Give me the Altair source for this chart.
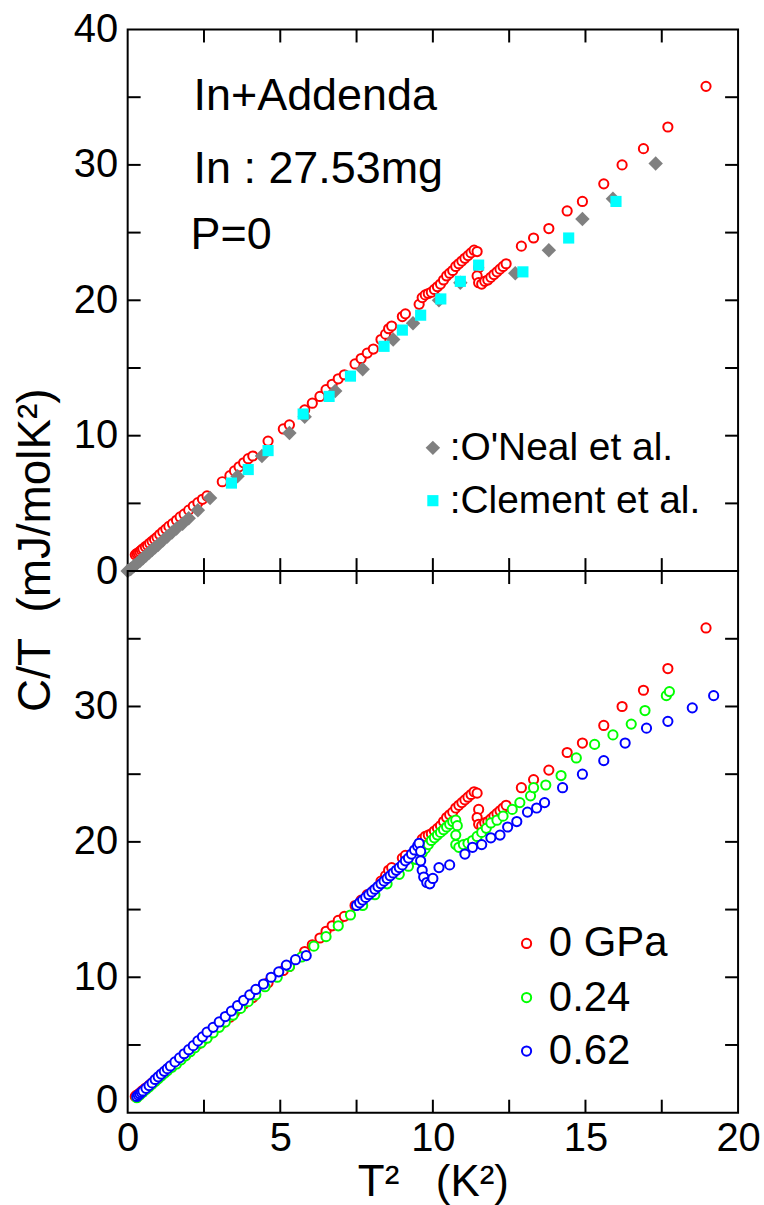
import altair as alt
import pandas as pd

# ---------------- data ----------------
# In + Addenda, P = 0 (red open circles, same data in both panels)
red_x = [0.25, 0.30, 0.35, 0.40, 0.45, 0.50, 0.58, 0.65, 0.72, 0.80, 0.88, 0.96, 1.05, 1.15, 1.25,
         1.35, 1.47, 1.60, 1.72, 1.85, 2.00, 2.15, 2.30, 2.45, 2.60, 3.10, 3.35, 3.50, 3.65, 3.80,
         3.95, 4.10, 4.60, 5.10, 5.30, 5.80, 6.05, 6.30, 6.50, 6.70, 6.90, 7.10, 7.45, 7.65, 7.85,
         8.05, 8.30, 8.45, 8.55, 8.65, 9.00, 9.10, 9.55, 9.65, 9.75, 9.85, 9.95, 10.05, 10.15, 10.25,
         10.35, 10.45, 10.55, 10.65, 10.75, 10.85, 10.95, 11.05, 11.15, 11.25, 11.35, 11.45, 11.50, 11.45, 11.50,
         11.60, 11.70, 11.80, 11.90, 12.00, 12.10, 12.20, 12.30, 12.40, 12.90, 13.30, 13.80, 14.40, 14.90, 15.60,
         16.20, 16.90, 17.70, 18.95]
red_y = [1.20, 1.30, 1.35, 1.45, 1.55, 1.65, 1.80, 1.90, 2.05, 2.20, 2.35, 2.50, 2.70, 2.90, 3.10,
         3.30, 3.50, 3.75, 4.00, 4.20, 4.50, 4.80, 5.05, 5.30, 5.55, 6.60, 7.05, 7.40, 7.70, 8.00,
         8.30, 8.50, 9.60, 10.50, 10.80, 11.90, 12.40, 12.90, 13.40, 13.80, 14.20, 14.50, 15.30, 15.70, 16.10,
         16.40, 17.10, 17.50, 17.90, 18.10, 18.80, 19.00, 19.70, 20.20, 20.40, 20.50, 20.60, 20.80, 21.00, 21.20,
         21.50, 21.80, 22.00, 22.20, 22.50, 22.70, 22.90, 23.10, 23.30, 23.50, 23.70, 23.60, 22.40, 21.80, 21.30,
         21.20, 21.40, 21.50, 21.70, 21.90, 22.10, 22.30, 22.50, 22.70, 24.00, 24.60, 25.30, 26.60, 27.30, 28.60,
         30.00, 31.20, 32.80, 35.80]

# O'Neal et al. (grey diamonds)
oneal_x = [0.0, 0.1, 0.2, 0.3, 0.4, 0.5, 0.6, 0.7, 0.8, 0.9, 1.0, 1.15, 1.3, 1.45, 1.6, 1.8, 2.0, 2.3,
           2.7, 3.6, 4.4, 5.3, 5.8, 6.8, 7.7, 8.7, 9.35, 10.2, 10.9, 12.7, 13.8, 14.9, 15.9, 17.3]
oneal_y = [0.0, 0.15, 0.35, 0.55, 0.75, 0.95, 1.15, 1.35, 1.55, 1.75, 1.95, 2.25, 2.55, 2.85, 3.15, 3.5, 3.9, 4.5,
           5.4, 7.0, 8.5, 10.2, 11.4, 13.3, 14.9, 17.1, 18.3, 20.0, 21.3, 22.0, 23.7, 26.0, 27.5, 30.1]

# Clement et al. (cyan squares)
clem_x = [3.4, 3.95, 4.6, 5.75, 6.6, 7.3, 8.4, 9.0, 9.6, 10.26, 10.9, 11.5, 12.95, 14.45, 16.0]
clem_y = [6.5, 7.5, 8.9, 11.6, 12.9, 14.4, 16.6, 17.8, 18.9, 20.1, 21.4, 22.6, 22.1, 24.6, 27.3]

# 0.24 GPa (green open circles)
green_x = [0.3, 0.4, 0.5, 0.6, 0.7, 0.8, 0.9, 1.0, 1.1, 1.2, 1.3, 1.45, 1.6, 1.75, 1.9, 2.05, 2.2, 2.4,
           2.6, 2.8, 3.0, 3.2, 3.45, 3.7, 3.95, 4.2, 4.5, 4.9, 5.3, 5.7, 6.1, 6.5, 6.9, 7.3, 7.7, 8.1,
           8.5, 8.9, 9.2, 9.45, 9.65, 9.75, 9.85, 9.95, 10.05, 10.15, 10.25, 10.35, 10.45, 10.55, 10.65, 10.75,
           10.8, 10.75, 10.75, 10.85, 11.0, 11.15, 11.3, 11.45, 11.6, 11.75, 11.9, 12.1, 12.3, 12.6, 12.85, 13.2,
           13.3, 13.7, 14.2, 14.7, 15.3, 15.9, 16.5, 16.95, 17.65, 17.75]
green_y = [1.1, 1.3, 1.5, 1.7, 1.9, 2.1, 2.3, 2.5, 2.7, 2.9, 3.1, 3.35, 3.6, 3.9, 4.2, 4.5, 4.8, 5.15,
           5.5, 5.9, 6.3, 6.7, 7.2, 7.7, 8.2, 8.7, 9.3, 10.0, 10.8, 11.5, 12.3, 13.0, 13.8, 14.6, 15.3, 16.1,
           16.9, 17.6, 18.2, 18.7, 19.2, 19.5, 19.8, 20.1, 20.3, 20.5, 20.7, 20.9, 21.1, 21.3, 21.5, 21.6,
           21.2, 20.5, 19.8, 19.6, 19.8, 19.9, 20.1, 20.4, 20.7, 21.0, 21.4, 21.6, 21.9, 22.4, 22.9, 23.4,
           24.0, 24.2, 24.9, 26.2, 27.2, 27.9, 28.7, 29.7, 30.8, 31.1]

# 0.62 GPa (blue open circles)
blue_x = [0.3, 0.35, 0.4, 0.45, 0.5, 0.6, 0.7, 0.8, 0.9, 1.0, 1.1, 1.2, 1.3, 1.4, 1.55, 1.7, 1.85, 2.0,
          2.15, 2.3, 2.45, 2.6, 2.8, 3.0, 3.2, 3.4, 3.6, 3.8, 4.0, 4.2, 4.45, 4.7, 4.95, 5.2, 5.5, 5.85,
          7.5, 7.6, 7.7, 7.8, 7.9, 8.0, 8.1, 8.2, 8.3, 8.4, 8.5, 8.6, 8.7, 8.8, 8.9, 9.0, 9.1, 9.2,
          9.3, 9.4, 9.5, 9.55, 9.6, 9.6, 9.65, 9.7, 9.8, 9.9, 10.0, 10.2, 10.55, 11.05, 11.3, 11.6, 11.9, 12.2,
          12.45, 12.75, 13.1, 13.4, 13.66, 14.25, 14.9, 15.6, 16.3, 17.0, 17.7, 18.5, 19.2]
blue_y = [1.2, 1.3, 1.4, 1.5, 1.6, 1.8, 2.0, 2.2, 2.45, 2.65, 2.85, 3.05, 3.25, 3.45, 3.75, 4.05, 4.35, 4.65,
          4.95, 5.3, 5.6, 5.95, 6.3, 6.7, 7.1, 7.5, 7.9, 8.3, 8.7, 9.1, 9.5, 10.0, 10.4, 10.9, 11.3, 11.6,
          15.3, 15.5, 15.7, 15.9, 16.1, 16.3, 16.5, 16.7, 16.9, 17.1, 17.3, 17.5, 17.7, 17.9, 18.1, 18.3, 18.6, 18.8,
          19.1, 19.4, 19.7, 19.9, 19.3, 18.6, 17.9, 17.4, 17.0, 16.9, 17.3, 18.1, 18.3, 19.1, 19.6, 19.8, 20.3, 20.5,
          21.1, 21.5, 22.2, 22.5, 22.9, 24.0, 25.0, 26.0, 27.3, 28.4, 28.9, 29.9, 30.8]

x_tick_vals = [2.5, 5, 7.5, 10, 12.5, 15, 17.5]
y_tick_vals = [5, 10, 15, 20, 25, 30, 35]

NB = "\u00a0"  # non-breaking space so SVG keeps the wide gaps
notes_x = [2.16, 2.16, 2.06]
notes_y = [35.1, 29.7, 24.8]
notes_t = ["In+Addenda", "In" + NB + ":" + NB + "27.53mg", "P=0"]

leg_top_labels = [":O'Neal et al.", ":Clement et al."]
leg_top_y = [9.1, 5.2]
leg_bot_labels = ["0 GPa", "0.24", "0.62"]
leg_bot_y = [12.5, 8.5, 4.55]

y_title = "C/T" + NB * 2 + "(mJ/molK²)"
x_title = "T²" + NB * 3 + "(K²)"

# ---------------- layout ----------------
W, H = 612, 543
FONT = "Liberation Sans"
TL = 13  # tick length
PAD_L, PAD_T, PAD_R, PAD_B = 127, 27, 25, 92

xs = alt.Scale(domain=[0, 20], nice=False)
ys = alt.Scale(domain=[0, 40], nice=False)


def pts(x, y):
    return pd.DataFrame({"x": x, "y": y})


def panel(ax_x, ax_y, layers_data):
    X = alt.X("x:Q", scale=xs, axis=ax_x)
    Y = alt.Y("y:Q", scale=ys, axis=ax_y)
    layers = []
    for d, mk in layers_data:
        layers.append(alt.Chart(d).mark_point(**mk).encode(x=X, y=Y))
    tx = pd.DataFrame({"x": x_tick_vals})
    ty = pd.DataFrame({"y": y_tick_vals})
    rule = dict(color="black", strokeWidth=2)
    layers.append(alt.Chart(tx).mark_rule(**rule).encode(x=X, y=alt.value(H), y2=alt.value(H - TL)))
    layers.append(alt.Chart(tx).mark_rule(**rule).encode(x=X, y=alt.value(0), y2=alt.value(TL)))
    layers.append(alt.Chart(ty).mark_rule(**rule).encode(y=Y, x=alt.value(0), x2=alt.value(TL)))
    layers.append(alt.Chart(ty).mark_rule(**rule).encode(y=Y, x=alt.value(W), x2=alt.value(W - TL)))
    return layers, X, Y


def circle(c):
    return dict(shape="circle", size=85, filled=False, fill="white", fillOpacity=1,
                stroke=c, strokeWidth=2, opacity=1)


diamond = dict(shape="diamond", size=210, filled=True, color="#808080", opacity=1)
square = dict(shape="square", size=125, filled=True, color="#00FFFF", opacity=1)

y_axis_top = alt.Axis(values=[0, 10, 20, 30, 40], ticks=False, domain=False, grid=False,
                      labelFontSize=40, labelPadding=10, title=None, labelColor="black", labelFont=FONT)
y_axis_bot = alt.Axis(values=[0, 10, 20, 30], ticks=False, domain=False, grid=False,
                      labelFontSize=40, labelPadding=10, title=None, labelColor="black", labelFont=FONT,
                      labelBaseline={"condition": {"test": "datum.value == 0", "value": "alphabetic"},
                                     "value": "middle"})
x_axis_bot = alt.Axis(values=[0, 5, 10, 15, 20], ticks=False, domain=False, grid=False, labelFlush=False,
                      labelFontSize=40, labelPadding=6, labelColor="black", labelFont=FONT,
                      title=x_title, titleFontSize=44, titleFontWeight="normal", titleFont=FONT,
                      titleColor="black", titlePadding=2)

# invisible rule that fixes the chart's outer bounds
bound_df = pd.DataFrame({"k": [0]})

# top panel
top_layers, Xt, Yt = panel(None, y_axis_top, [
    (pts(red_x, red_y), circle("#FF0000")),
    (pts(oneal_x, oneal_y), diamond),
    (pts(clem_x, clem_y), square),
])
notes = pd.DataFrame({"x": notes_x, "y": notes_y, "t": notes_t})
top_layers.append(alt.Chart(notes).mark_text(align="left", baseline="middle", fontSize=45, font=FONT,
                                             color="black").encode(x=Xt, y=Yt, text="t:N"))
leg_top_sym = [(pts([10.0], [leg_top_y[0]]), diamond), (pts([10.0], [leg_top_y[1]]), square)]
for d, mk in leg_top_sym:
    top_layers.append(alt.Chart(d).mark_point(**mk).encode(x=Xt, y=Yt))
leg_top = pd.DataFrame({"x": [10.55, 10.55], "y": leg_top_y, "t": leg_top_labels})
top_layers.append(alt.Chart(leg_top).mark_text(align="left", baseline="middle", fontSize=39, font=FONT,
                                               color="black").encode(x=Xt, y=Yt, text="t:N"))
ytitle = pd.DataFrame({"t": [y_title]})
top_layers.append(alt.Chart(ytitle).mark_text(angle=270, align="center", baseline="middle", fontSize=46,
                                              font=FONT, color="black").encode(
    text="t:N", x=alt.value(-92), y=alt.value(522)))
top_layers.append(alt.Chart(bound_df).mark_rule(strokeOpacity=0, strokeWidth=0.01).encode(
    x=alt.value(-PAD_L), x2=alt.value(W + PAD_R), y=alt.value(-PAD_T)))
top = alt.layer(*top_layers).properties(width=W, height=H)

# bottom panel
bot_layers, Xb, Yb = panel(x_axis_bot, y_axis_bot, [
    (pts(red_x, red_y), circle("#FF0000")),
    (pts(green_x, green_y), circle("#00FF00")),
    (pts(blue_x, blue_y), circle("#0000FF")),
])
for yv, c in zip(leg_bot_y, ["#FF0000", "#00FF00", "#0000FF"]):
    bot_layers.append(alt.Chart(pts([13.07], [yv])).mark_point(**circle(c)).encode(x=Xb, y=Yb))
leg_bot = pd.DataFrame({"x": [13.8] * 3, "y": leg_bot_y, "t": leg_bot_labels})
bot_layers.append(alt.Chart(leg_bot).mark_text(align="left", baseline="middle", fontSize=42, font=FONT,
                                               color="black").encode(x=Xb, y=Yb, text="t:N"))
bot_layers.append(alt.Chart(bound_df).mark_rule(strokeOpacity=0, strokeWidth=0.01).encode(
    x=alt.value(-PAD_L), x2=alt.value(W + PAD_R), y=alt.value(H + PAD_B)))
bottom = alt.layer(*bot_layers).properties(width=W, height=H)

chart = alt.vconcat(top, bottom, spacing=0, bounds="flush").properties(
    padding=0,
    background="white",
).configure(font=FONT).configure_view(stroke="black", strokeWidth=2)

chart.save("out.html", embed_options={"renderer": "svg", "actions": False})
